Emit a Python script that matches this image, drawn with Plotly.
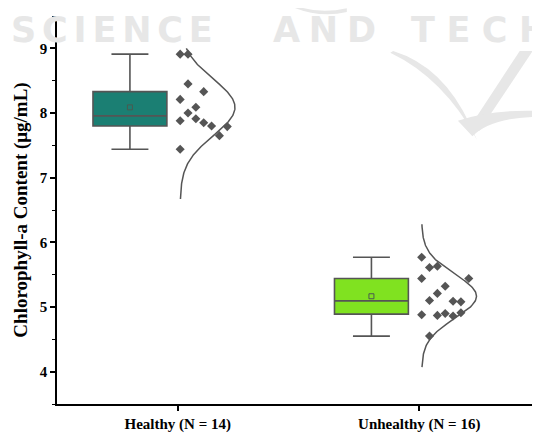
import numpy as np
import plotly.graph_objects as go

# ---- data ----
categories = ["Healthy (N = 14)", "Unhealthy (N = 16)"]
healthy_values = [8.91, 8.91, 8.45, 8.33, 8.21, 8.09, 8.00, 7.91, 7.88, 7.85, 7.80, 7.79, 7.65, 7.44]
unhealthy_values = [5.77, 5.61, 5.63, 5.44, 5.44, 5.32, 5.21, 5.10, 5.09, 5.08, 4.88, 4.87, 4.90, 4.86, 4.91, 4.55]
# jitter column index of each point (as placed in the reference)
healthy_jitter = [0, 1, 1, 3, 0, 2, 1, 2, 0, 3, 4, 6, 5, 0]
unhealthy_jitter = [0, 1, 2, 0, 6, 3, 2, 1, 4, 5, 0, 2, 3, 4, 5, 1]
# vertical extent of the normal curves
curve_lo = [6.67, 4.07]
curve_hi = [9.00, 6.28]
y_ticks = [4, 5, 6, 7, 8, 9]

# ---- styling ----
fills = ["#1b7f73", "#80e220"]
dark = "#555555"
BOX_OFF = -0.198
BOX_W = 0.306
PT_OFF = 0.01
PT_STEP = 0.0325
CURVE_H = 0.227
FONT = "Liberation Serif"

fig = go.Figure()
groups = [healthy_values, unhealthy_values]
jitters = [healthy_jitter, unhealthy_jitter]

for i, (vals, jit) in enumerate(zip(groups, jitters)):
    pos = i + 1
    vals = np.array(vals)
    fig.add_trace(go.Box(
        y=vals, x=[pos + BOX_OFF] * len(vals), width=BOX_W,
        boxpoints=False, quartilemethod="exclusive",
        fillcolor=fills[i], line=dict(color=dark, width=1.6),
        whiskerwidth=0.5, showlegend=False, hoverinfo="skip"))
    m = vals.mean()
    sd = vals.std(ddof=1)
    fig.add_trace(go.Scatter(
        x=[pos + BOX_OFF], y=[m], mode="markers",
        marker=dict(symbol="square-open", size=5, color="#4a5a50", line=dict(width=1)),
        showlegend=False, hoverinfo="skip"))
    fig.add_trace(go.Scatter(
        x=pos + PT_OFF + np.array(jit) * PT_STEP, y=vals, mode="markers",
        marker=dict(symbol="diamond", size=7, color=dark),
        showlegend=False, hoverinfo="skip"))
    yy = np.linspace(curve_lo[i], curve_hi[i], 200)
    xx = pos + PT_OFF + CURVE_H * np.exp(-(yy - m) ** 2 / (2 * sd ** 2))
    fig.add_trace(go.Scatter(
        x=xx, y=yy, mode="lines", line=dict(color=dark, width=1.5),
        showlegend=False, hoverinfo="skip"))

# ---- faint watermark ----
wm = "#e7e7e7"
for txt, xc, sep in [("SCIENCE", 0.113, "\u2006"), ("AND", 0.553, "\u2005"), ("TECH", 0.875, "\u2004")]:
    fig.add_annotation(text=sep.join(txt), xref="paper", yref="paper", x=xc, y=0.964,
                       xanchor="center", yanchor="middle", showarrow=False,
                       font=dict(family="DejaVu Sans", size=35, color=wm, weight="bold"))
shapes = [
    # right arm of V
    dict(type="path", path="M 0.958 0.91 L 0.985 0.91 L 0.875 0.705 L 0.85 0.705 Z"),
    # left curved arm of V
    dict(type="path", path="M 0.696 0.91 Q 0.80 0.87 0.855 0.72 L 0.87 0.68 Q 0.80 0.84 0.69 0.905 Z"),
    # bottom swoosh
    dict(type="path", path="M 0.83 0.73 Q 0.90 0.76 1.0 0.755 L 1.0 0.74 Q 0.90 0.74 0.86 0.69 Z"),
    # top swoosh
    dict(type="path", path="M 0.47 1.04 Q 0.53 1.0 0.6 1.02 L 0.6 1.01 Q 0.53 0.99 0.46 1.04 Z"),
]
for s in shapes:
    fig.add_shape(**s, xref="paper", yref="paper", fillcolor=wm, line=dict(width=0), layer="below")

# page body has an 8px margin, so the figure is sized to end at the window edge
fig.update_layout(
    width=532, height=427,
    margin=dict(l=49, r=0, t=8, b=31),
    paper_bgcolor="white", plot_bgcolor="white",
    font=dict(family=FONT, color="black"),
)
fig.update_xaxes(
    range=[0.5, 2.5], tickmode="array", tickvals=[1, 2], ticktext=categories,
    ticks="outside", ticklen=5, tickwidth=1.5, tickcolor="black",
    showline=True, linecolor="black", linewidth=1.5,
    showgrid=False, zeroline=False,
    tickfont=dict(family=FONT, size=15, weight="bold", color="black"))
fig.update_yaxes(
    range=[3.5, 9.5], tickmode="array", tickvals=y_ticks,
    ticks="outside", ticklen=5, tickwidth=1.5, tickcolor="black",
    showline=True, linecolor="black", linewidth=1.5,
    showgrid=False, zeroline=False,
    minor=dict(tickvals=[v + 0.5 for v in [3] + y_ticks], ticks="outside", ticklen=3, tickwidth=1, tickcolor="black"),
    tickfont=dict(family=FONT, size=15, weight="bold", color="black"),
    title=dict(text="Chlorophyll-a Content (μg/mL)", standoff=7,
               font=dict(family=FONT, size=19, weight="bold", color="black")))

fig.write_html("out.html")
